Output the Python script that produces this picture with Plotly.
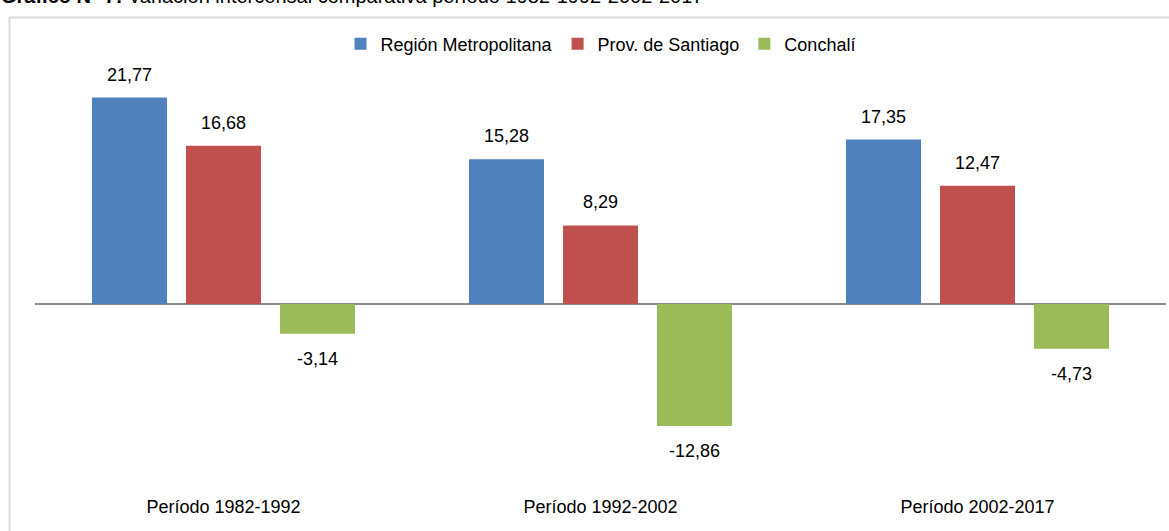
import plotly.graph_objects as go

categories = ["Período 1982-1992", "Período 1992-2002", "Período 2002-2017"]
series_names = ["Región Metropolitana", "Prov. de Santiago", "Conchalí"]
region_metropolitana = [21.77, 15.28, 17.35]
prov_santiago = [16.68, 8.29, 12.47]
conchali = [-3.14, -12.86, -4.73]
series_values = [region_metropolitana, prov_santiago, conchali]
colors = ["#4f81bd", "#c0504d", "#9bbb59"]

FONT = "Liberation Sans Narrow, Arial Narrow, Liberation Sans, Arial, sans-serif"
FS = 18

W, H = 1169, 531
ML, MR, MT, MB = 35, 3, 20, 37
plot_w = W - ML - MR
plot_h = H - MT - MB
zero_px = 304
px_per_unit = 9.48
y_top = (zero_px - MT) / px_per_unit
y_bot = -(H - MB - zero_px) / px_per_unit

fig = go.Figure()
for name, vals, col in zip(series_names, series_values, colors):
    fig.add_trace(go.Bar(name=name, x=categories, y=vals,
                         marker=dict(color=col, line=dict(width=0)), hoverinfo="skip"))

slot_px = plot_w / 3 * (1 - 0.252) / 3
for k, vals in enumerate(series_values):
    for cat, v in zip(categories, vals):
        fig.add_annotation(
            x=cat, y=v, xref="x", yref="y",
            text=f"{v:.2f}".replace(".", ","),
            showarrow=False,
            xshift=(k - 1) * slot_px,
            yshift=23 if v > 0 else -25,
            yanchor="middle", xanchor="center",
            font=dict(family=FONT, size=FS, color="#000000"),
        )

def px_to_paper_x(px):
    return (px - ML) / plot_w

def px_to_paper_y(py):
    return (H - MB - py) / plot_h

# Title (cropped at top in the reference)
fig.add_annotation(
    x=px_to_paper_x(-1), y=px_to_paper_y(-4), xref="paper", yref="paper",
    xanchor="left", yanchor="middle", showarrow=False,
    text="<b>Gráfico N° 7:</b> Variación intercensal comparativa período 1982-1992-2002-2017",
    font=dict(family=FONT, size=20, color="#000000"),
)

# Chart border
fig.add_shape(
    type="rect", xref="paper", yref="paper",
    x0=px_to_paper_x(9.5), x1=px_to_paper_x(1200),
    y0=px_to_paper_y(600), y1=px_to_paper_y(17.5),
    line=dict(color="#d9d9d9", width=2), fillcolor="rgba(0,0,0,0)", layer="below",
)

fig.update_layout(
    width=W, height=H,
    margin=dict(l=ML, r=MR, t=MT, b=MB, pad=0),
    paper_bgcolor="#ffffff", plot_bgcolor="#ffffff",
    barmode="group", bargap=0.252, bargroupgap=0.202,
    font=dict(family=FONT, size=FS, color="#000000"),
    showlegend=True,
    legend=dict(
        orientation="h", x=0.5, xanchor="center",
        y=px_to_paper_y(44), yanchor="middle",
        font=dict(family=FONT, size=FS, color="#000000"),
        bgcolor="rgba(0,0,0,0)", itemwidth=30,
        traceorder="normal",
    ),
    xaxis=dict(
        showgrid=False, showline=False, zeroline=False,
        ticks="", tickfont=dict(family=FONT, size=FS, color="#000000"),
    ),
    yaxis=dict(
        range=[y_bot, y_top], showgrid=False, showline=False,
        showticklabels=False, ticks="",
        zeroline=True, zerolinecolor="#8c8c8c", zerolinewidth=2,
    ),
)

fig.write_html("out.html", config={"displayModeBar": False},
               post_script="document.body.style.margin='0';")
